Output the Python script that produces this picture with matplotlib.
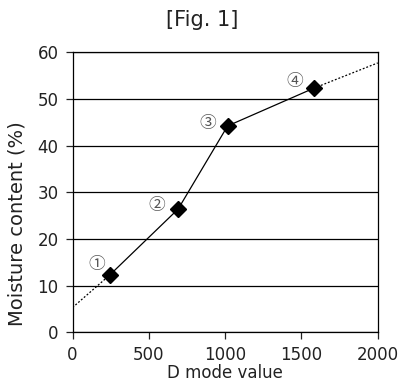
import matplotlib
matplotlib.use('Agg')
import matplotlib.pyplot as plt
import numpy as np

plt.rcParams['font.family'] = ['DejaVu Sans', 'Noto Sans CJK JP']

# measured points
d_mode = [245, 692, 1016, 1582]
moisture = [12.3, 26.4, 44.2, 52.3]
point_labels = ['①', '②', '③', '④']
# dotted extrapolations at both ends
ext_left_x = [0, 245]
ext_left_y = [5.3, 12.3]
ext_right_x = [1582, 2000]
ext_right_y = [52.3, 57.7]

fig = plt.figure(figsize=(4.01, 3.81), dpi=100)
ax = fig.add_axes([0.181, 0.128, 0.761, 0.735])

ax.plot(ext_left_x, ext_left_y, color='k', lw=0.9, ls=(0, (1.5, 1.5)))
ax.plot(ext_right_x, ext_right_y, color='k', lw=0.9, ls=(0, (1.5, 1.5)))
ax.plot(d_mode, moisture, color='k', lw=0.9, marker='D', ms=8.5, mfc='k', mec='k')

# label offsets in pixels from each marker
offs = [(-13, 10), (-21.5, 4), (-20, 2.3), (-19.3, 6.6)]
for x, y, t, (dx, dy) in zip(d_mode, moisture, point_labels, offs):
    ax.annotate(t, xy=(x, y), xytext=(dx * 0.72, dy * 0.72), textcoords='offset points',
                fontsize=12, color='#555555', ha='center', va='center',
                family=['Noto Sans CJK JP', 'DejaVu Sans'])

ax.set_xlim(0, 2000)
ax.set_ylim(0, 60)
ax.set_xticks([0, 500, 1000, 1500, 2000])
ax.set_yticks(range(0, 61, 10))
ax.yaxis.grid(True, color='k', lw=0.9)
ax.set_axisbelow(True)
for s in ax.spines.values():
    s.set_linewidth(0.9)
ax.tick_params(direction='out', length=5, width=0.9, labelsize=12, colors='#222222', pad=5)
ax.set_xlabel('D mode value', fontsize=12, labelpad=0, color='#222222')
ax.set_ylabel('Moisture content (%)', fontsize=14, color='#222222')
ax.yaxis.set_label_coords(-0.15, 0.387)
fig.text(0.505, 0.947, '[Fig. 1]', fontsize=15, ha='center', va='center', color='#222222')

fig.savefig('out.png', dpi=100)
